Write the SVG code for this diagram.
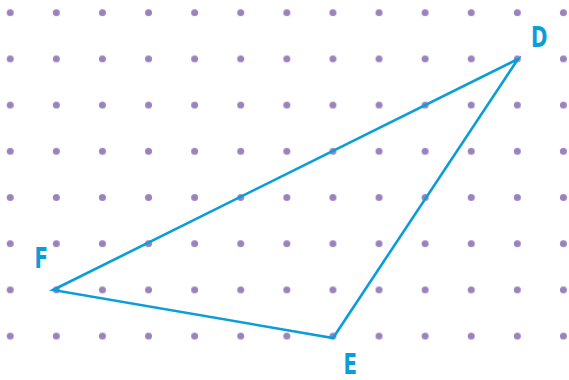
<svg xmlns="http://www.w3.org/2000/svg" width="569" height="380" viewBox="0 0 569 380">
<defs>
<style>
.dot{fill:#9a83bd}
.edge{fill:none;stroke:#0b9dda;stroke-width:2.6;stroke-linejoin:miter}
.lbl{fill:#0b9dda;font-family:"DejaVu Sans Condensed","DejaVu Sans",sans-serif;font-size:27.5px;font-weight:bold}
</style>
<pattern id="grid" x="-12.8" y="-10.4" width="46.1" height="46.2" patternUnits="userSpaceOnUse">
<circle class="dot" cx="23.05" cy="23.1" r="3.5"/>
</pattern>
</defs>
<rect id="dot-grid" x="0" y="0" width="569" height="360" fill="url(#grid)"/>
<g id="connectors">
<path class="edge" d="M518 59 L53 290 L333 338 Z"/>
</g>
<g id="node-D"><text class="lbl" transform="translate(531 46.7) scale(0.8 1)">D</text></g>
<g id="node-F"><text class="lbl" transform="translate(34.5 268) scale(0.8 1)">F</text></g>
<g id="node-E"><text class="lbl" transform="translate(343.5 374) scale(0.8 1)">E</text></g>
</svg>
